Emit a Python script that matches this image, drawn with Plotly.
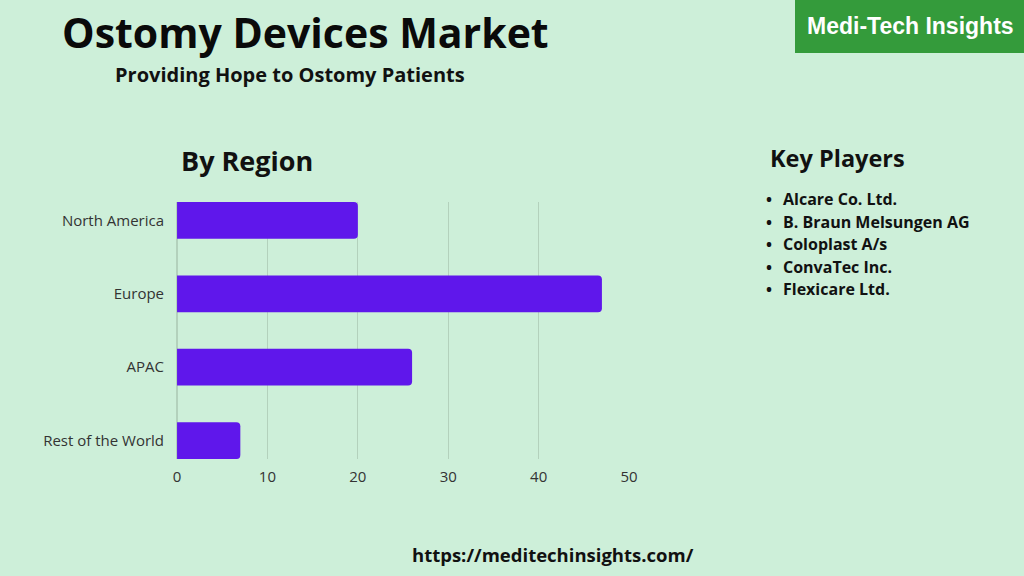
import plotly.graph_objects as go

# Data
regions = ["North America", "Europe", "APAC", "Rest of the World"]
shares = [20, 47, 26, 7]
x_ticks = [0, 10, 20, 30, 40, 50]
key_players = ["Alcare Co. Ltd.", "B. Braun Melsungen AG", "Coloplast A/s",
               "ConvaTec Inc.", "Flexicare Ltd."]

bg = "#CDEFD9"
bar_color = "#5F17EB"
font = "Open Sans"

fig = go.Figure()

fig.add_trace(go.Bar(
    x=shares,
    y=regions,
    orientation="h",
    marker=dict(color=bar_color, line=dict(width=0)),
    width=0.5,
    hoverinfo="x+y",
))

fig.update_layout(
    width=1024, height=576,
    margin=dict(l=0, r=0, t=0, b=0, pad=0),
    paper_bgcolor=bg, plot_bgcolor=bg,
    showlegend=False,
    barcornerradius=4,
    font=dict(family=font, color="#222222"),
    xaxis=dict(
        domain=[0.1729, 0.6143],
        range=[0, 50],
        tickvals=x_ticks,
        automargin=False,
        showgrid=True, gridcolor="#B3D1BC", gridwidth=1,
        zeroline=True, zerolinecolor="#B3D1BC",
        showline=False, ticks="",
        ticklabelstandoff=7,
        tickfont=dict(size=15, color="#333333"),
    ),
    yaxis=dict(
        domain=[0.2031, 0.6493],
        range=[3.25, -0.25],
        automargin=False,
        showgrid=False, zeroline=False, ticks="",
        ticklabelstandoff=12,
        tickfont=dict(size=15, color="#333333"),
    ),
)

# green brand box
fig.add_shape(type="rect", xref="paper", yref="paper",
              x0=795 / 1024, x1=1, y0=1 - 53 / 576, y1=1,
              fillcolor="#349B3B", line=dict(width=0), layer="below")

anns = [
    dict(text="<b>Ostomy Devices Market</b>", x=305, y=32, size=41, color="#0a0a0a"),
    dict(text="<b>Providing Hope to Ostomy Patients</b>", x=290, y=74, size=20, color="#111111"),
    dict(text="<b>By Region</b>", x=247, y=161, size=27, color="#111111"),
    dict(text="<b>Key Players</b>", x=837, y=158, size=23.5, color="#111111"),
    dict(text="<b>https://meditechinsights.com/</b>", x=553, y=554, size=18.5, color="#111111"),
]
for a in anns:
    fig.add_annotation(text=a["text"], xref="paper", yref="paper",
                       x=a["x"] / 1024, y=1 - a["y"] / 576,
                       xanchor="center", yanchor="middle", showarrow=False,
                       font=dict(family=font, size=a["size"], color=a["color"]))

fig.add_annotation(text="<b>Medi-Tech Insights</b>", xref="paper", yref="paper",
                   x=910 / 1024, y=1 - 26 / 576, xanchor="center", yanchor="middle",
                   showarrow=False,
                   font=dict(family="Liberation Sans", size=23, color="white"))

for i, name in enumerate(key_players):
    y = 199 + i * 22.6
    fig.add_annotation(text="<b>•</b>", xref="paper", yref="paper",
                       x=764 / 1024, y=1 - y / 576, xanchor="left", yanchor="middle",
                       showarrow=False, font=dict(family=font, size=16, color="#111111"))
    fig.add_annotation(text="<b>" + name + "</b>", xref="paper", yref="paper",
                       x=781 / 1024, y=1 - y / 576, xanchor="left", yanchor="middle",
                       showarrow=False, font=dict(family=font, size=16, color="#111111"))

fig.write_html("out.html",
               config=dict(displayModeBar=False),
               post_script="document.body.style.margin='0';")
